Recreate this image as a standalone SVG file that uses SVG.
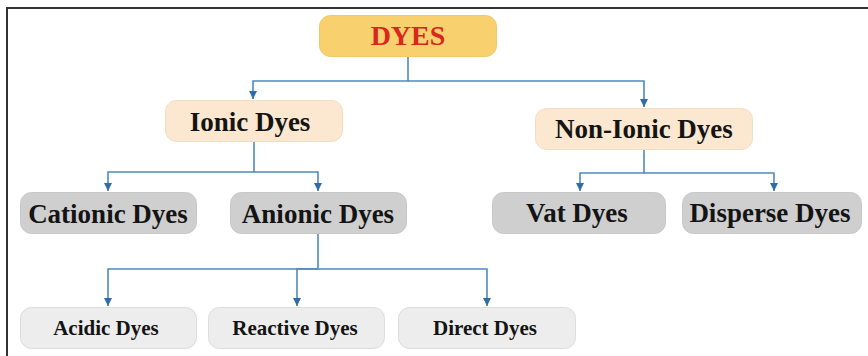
<svg xmlns="http://www.w3.org/2000/svg" width="868" height="356" viewBox="0 0 868 356">
<style>
text{font-family:"Liberation Serif","Times New Roman",serif;font-weight:bold;text-anchor:middle;fill:#141414}
.root{fill:#F8D06E;stroke:#F3C866;stroke-width:1}
.l1{fill:#FCE8D1;stroke:#F2DCC2;stroke-width:1}
.l2{fill:#CFCFCF;stroke:#C8C8C8;stroke-width:1}
.l3{fill:#EDEDED;stroke:#DCDCDC;stroke-width:1}
.t1{font-size:27px}
.t3{font-size:21px}
.conn{fill:none;stroke:#4F8BBE;stroke-width:1.6}
</style>
<defs>
<marker id="ah" viewBox="0 0 10 10" refX="10" refY="5" markerWidth="8" markerHeight="8" markerUnits="userSpaceOnUse" orient="auto">
<path d="M0,0 L10,5 L0,10 Z" fill="#2F6DA6"/>
</marker>
</defs>
<rect width="868" height="356" fill="#fff"/>
<path d="M7,356 V8 H868" fill="none" stroke="#333" stroke-width="2"/>
<g id="connectors">
<path class="conn" d="M408,57 V81 H253 V99" marker-end="url(#ah)"/>
<path class="conn" d="M408,81 H644 V107" marker-end="url(#ah)"/>
<path class="conn" d="M254,142 V172 H108 V191" marker-end="url(#ah)"/>
<path class="conn" d="M254,172 H318 V191" marker-end="url(#ah)"/>
<path class="conn" d="M644,150 V173 H580 V191" marker-end="url(#ah)"/>
<path class="conn" d="M644,173 H774 V191" marker-end="url(#ah)"/>
<path class="conn" d="M318,234 V269 H108 V306" marker-end="url(#ah)"/>
<path class="conn" d="M318,269 H297 V306" marker-end="url(#ah)"/>
<path class="conn" d="M318,269 H487 V306" marker-end="url(#ah)"/>
</g>
<g id="dyes">
<rect class="root" x="319.5" y="15.5" width="177" height="41" rx="11"/>
<text x="408" y="45" style="font-size:28px;fill:#D8281E">DYES</text>
</g>
<g id="ionic">
<rect class="l1" x="165.5" y="100.5" width="177" height="41" rx="11"/>
<text class="t1" x="250" y="131">Ionic Dyes</text>
</g>
<g id="nonionic">
<rect class="l1" x="535.5" y="108.5" width="217" height="41" rx="11"/>
<text class="t1" x="644" y="138">Non-Ionic Dyes</text>
</g>
<g id="cationic">
<rect class="l2" x="20.5" y="192.5" width="176" height="41" rx="11"/>
<text class="t1" x="108" y="223">Cationic Dyes</text>
</g>
<g id="anionic">
<rect class="l2" x="230.5" y="192.5" width="176" height="41" rx="11"/>
<text class="t1" x="318" y="223">Anionic Dyes</text>
</g>
<g id="vat">
<rect class="l2" x="492.5" y="192.5" width="173" height="41" rx="11"/>
<text class="t1" x="577" y="222">Vat Dyes</text>
</g>
<g id="disperse">
<rect class="l2" x="682.5" y="192.5" width="179" height="41" rx="11"/>
<text class="t1" x="770" y="222">Disperse Dyes</text>
</g>
<g id="acidic">
<rect class="l3" x="20.5" y="307.5" width="176" height="41" rx="11"/>
<text class="t3" x="106" y="335">Acidic Dyes</text>
</g>
<g id="reactive">
<rect class="l3" x="208.5" y="307.5" width="176" height="41" rx="11"/>
<text class="t3" x="295" y="335">Reactive Dyes</text>
</g>
<g id="direct">
<rect class="l3" x="398.5" y="307.5" width="177" height="41" rx="11"/>
<text class="t3" x="485" y="335">Direct Dyes</text>
</g>
</svg>
